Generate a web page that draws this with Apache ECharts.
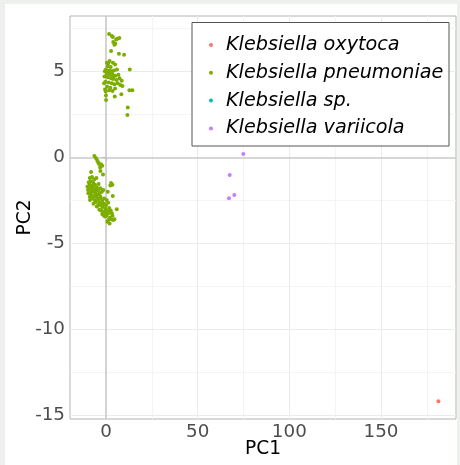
<!DOCTYPE html>
<html>
<head>
<meta charset="utf-8">
<script src="https://cdn.jsdelivr.net/npm/echarts@6/dist/echarts.min.js"></script>
<style>
  html, body { margin: 0; padding: 0; background: #eef0ed; }
  #chart { width: 460px; height: 465px; }
</style>
</head>
<body>
<div id="chart"></div>
<script>
// species names (legend order)
const species = ['Klebsiella oxytoca', 'Klebsiella pneumoniae', 'Klebsiella sp.', 'Klebsiella variicola']
const colors = ['#F8766D', '#7CAE00', '#00BFC4', '#C77CFF']

// PC1 / PC2 scores
const oxytoca = [[181.3, -14.2]]
const sp = []
const variicola = [[74.9, 0.19], [67.5, -1.03], [70.0, -2.19], [67.1, -2.39]]
const pneumoniae = [
  // upper cluster
  [1.7, 7.17], [3.2, 7.06], [3.8, 7.0], [7.3, 6.94], [6.2, 6.9], [5.6, 6.85], [4.0, 6.71], [5.1, 6.6],
  [4.6, 6.55], [2.8, 6.19], [7.1, 6.03], [9.9, 5.97], [13.0, 5.10],
  [0.5, 5.5], [1.2, 5.45], [2.0, 5.6], [3.8, 5.5], [5.0, 5.4], [1.0, 5.3], [2.6, 5.25], [0.0, 5.1],
  [-0.6, 5.0], [1.8, 5.05], [3.0, 5.0], [4.4, 5.05], [6.0, 5.1], [0.4, 4.85], [2.2, 4.8], [3.5, 4.85],
  [5.2, 4.75], [6.8, 4.8], [-0.8, 4.7], [1.0, 4.65], [2.8, 4.6], [4.0, 4.55], [5.8, 4.5], [7.4, 4.6],
  [8.6, 4.45], [-0.3, 4.4], [1.5, 4.35], [3.2, 4.3], [4.6, 4.25], [6.4, 4.3], [7.8, 4.2], [0.6, 4.1],
  [2.4, 4.05], [5.0, 4.0], [9.0, 4.15], [-1.0, 4.3], [-0.5, 3.95], [1.8, 3.9], [3.6, 3.85],
  [12.8, 3.9], [14.4, 3.9], [-0.1, 3.82], [0.05, 3.33], [4.8, 3.53], [8.4, 3.67], [11.9, 2.89],
  [11.7, 2.46], [0.0, 3.6], [2.9, 4.95], [3.9, 4.7], [0.9, 4.95],
  // lower cluster
  [-6.3, 0.08], [-5.4, -0.06], [-4.7, -0.2], [-4.2, -0.3], [-3.8, -0.39], [-2.7, -0.41], [-2.0, -0.49],
  [-3.2, -0.6], [-1.6, -1.0], [-8.1, -0.86], [-3.0, -0.8],
  [2.8, -1.5], [3.5, -1.6], [2.4, -1.65], [3.7, -2.25], [5.9, -3.03], [4.6, -3.61], [1.0, -2.0],
  [-8.8, -1.2], [-7.6, -1.15], [-6.4, -1.3], [-5.2, -1.2], [-8.2, -1.4], [-9.4, -1.45], [-6.9, -1.5],
  [-10.1, -1.71], [-9.0, -1.6], [-8.0, -1.7], [-7.2, -1.65], [-6.0, -1.6], [-5.0, -1.75], [-4.0, -1.55],
  [-3.0, -1.8], [-8.6, -1.85], [-7.4, -1.9],
  [-9.6, -2.1], [-8.4, -2.05], [-6.6, -2.0], [-5.6, -2.1], [-4.4, -1.95], [-3.4, -2.1], [-2.2, -2.0],
  [-1.4, -1.9], [-7.8, -2.2], [-6.2, -2.25],
  [-8.7, -2.49], [-7.4, -2.4], [-6.0, -2.5], [-5.0, -2.35], [-4.0, -2.45], [-3.0, -2.3], [-2.0, -2.55],
  [-1.0, -2.4], [0.4, -2.49], [-5.4, -2.6], [-3.6, -2.65],
  [-6.8, -2.7], [-5.0, -2.87], [-4.2, -2.8], [-3.0, -2.75], [-2.0, -2.9], [-1.0, -2.7], [0.0, -2.8],
  [1.2, -2.65], [-0.4, -3.0], [1.8, -2.95],
  [-3.6, -3.05], [-2.6, -3.1], [-1.4, -3.2], [-0.4, -3.15], [0.6, -3.1], [1.6, -3.25], [2.6, -3.1],
  [3.2, -3.26], [-2.0, -3.3],
  [-1.4, -3.36], [-0.6, -3.45], [0.4, -3.4], [1.3, -3.65], [2.2, -3.5], [3.0, -3.6], [4.0, -3.65],
  [2.0, -3.85], [0.8, -3.75], [3.6, -3.4],
  [-7.0, -1.8], [-5.8, -1.9], [-4.6, -2.2], [-2.8, -2.4], [-1.6, -2.7], [0.2, -3.3], [-8.8, -2.3], [-9.8, -1.9]
]

// axis ranges and tick labels
const xRange = [-19.6, 190.9]
const yRange = [-15.23, 8.22]
const xTicks = [0, 50, 100, 150]
const yTicks = [-15, -10, -5, 0, 5]
const xMinor = [25, 75, 125, 175]
const yMinor = [-12.5, -7.5, -2.5, 2.5, 7.5]

const myChart = echarts.init(document.getElementById('chart'))

const line = (key, v, color, width) => ({ [key]: v, lineStyle: { color: color, width: width, type: 'solid' } })
const gridLines = [].concat(
  xMinor.map(v => line('xAxis', v, '#f4f4f4', 1)),
  yMinor.map(v => line('yAxis', v, '#f4f4f4', 1)),
  xTicks.filter(v => v !== 0).map(v => line('xAxis', v, '#ebebeb', 1)),
  yTicks.filter(v => v !== 0).map(v => line('yAxis', v, '#ebebeb', 1)),
  [line('xAxis', 0, '#c8c8c8', 1.6), line('yAxis', 0, '#c8c8c8', 1.6)]
)

const scatter = (name, data, i) => ({
  name: name,
  type: 'scatter',
  data: data,
  symbolSize: 4,
  itemStyle: { color: colors[i], opacity: 1 },
  z: 3
})

const options = {
  animation: false,
  backgroundColor: '#eef0ed',
  graphic: [
    { type: 'rect', shape: { x: 5, y: 4, width: 452, height: 461 }, style: { fill: '#ffffff' }, z: -10, silent: true },
    { type: 'rect', shape: { x: 192, y: 22.5, width: 257, height: 123.5 },
      style: { fill: '#ffffff', stroke: '#555555', lineWidth: 1 }, z: 5, silent: true }
  ],
  grid: {
    left: 70, top: 16, width: 386, height: 403,
    outerBoundsMode: 'none', containLabel: false,
    show: true, backgroundColor: '#ffffff', borderColor: '#b3b3b3', borderWidth: 1
  },
  legend: {
    data: species,
    orient: 'vertical',
    left: 200, top: 22.5,
    padding: [12.5, 4, 8, 9],
    itemWidth: 20, itemHeight: 4,
    itemGap: 7.8,
    icon: 'circle',
    z: 6,
    textStyle: { fontFamily: 'DejaVu Sans', fontStyle: 'italic', fontSize: 19.2, color: '#000', lineHeight: 20 }
  },
  xAxis: {
    type: 'value',
    min: xRange[0], max: xRange[1],
    name: 'PC1', nameLocation: 'middle', nameGap: 21, nameMoveOverlap: false,
    nameTextStyle: { fontFamily: 'DejaVu Sans', fontSize: 18.6, color: '#000' },
    axisLine: { show: false },
    axisTick: { show: true, customValues: xTicks, length: 3.5, lineStyle: { color: '#8a8a8a' } },
    axisLabel: { customValues: xTicks, margin: 4, fontFamily: 'DejaVu Sans', fontSize: 18.3, color: '#4d4d4d' },
    splitLine: { show: false }
  },
  yAxis: {
    type: 'value',
    min: yRange[0], max: yRange[1],
    name: 'PC2', nameLocation: 'middle', nameGap: 35, nameRotate: 90, nameMoveOverlap: false,
    nameTextStyle: { fontFamily: 'DejaVu Sans', fontSize: 18.6, color: '#000' },
    axisLine: { show: false },
    axisTick: { show: true, customValues: yTicks, length: 3.5, lineStyle: { color: '#8a8a8a' } },
    axisLabel: { customValues: yTicks, margin: 5, fontFamily: 'DejaVu Sans', fontSize: 18.3, color: '#4d4d4d' },
    splitLine: { show: false }
  },
  series: [
    {
      name: 'grid',
      type: 'line',
      data: [],
      silent: true,
      z: 1,
      markLine: { silent: true, z: 1, symbol: 'none', label: { show: false }, animation: false, data: gridLines }
    },
    scatter(species[0], oxytoca, 0),
    scatter(species[1], pneumoniae, 1),
    scatter(species[2], sp, 2),
    scatter(species[3], variicola, 3)
  ]
}

myChart.setOption(options)
</script>
</body>
</html>
